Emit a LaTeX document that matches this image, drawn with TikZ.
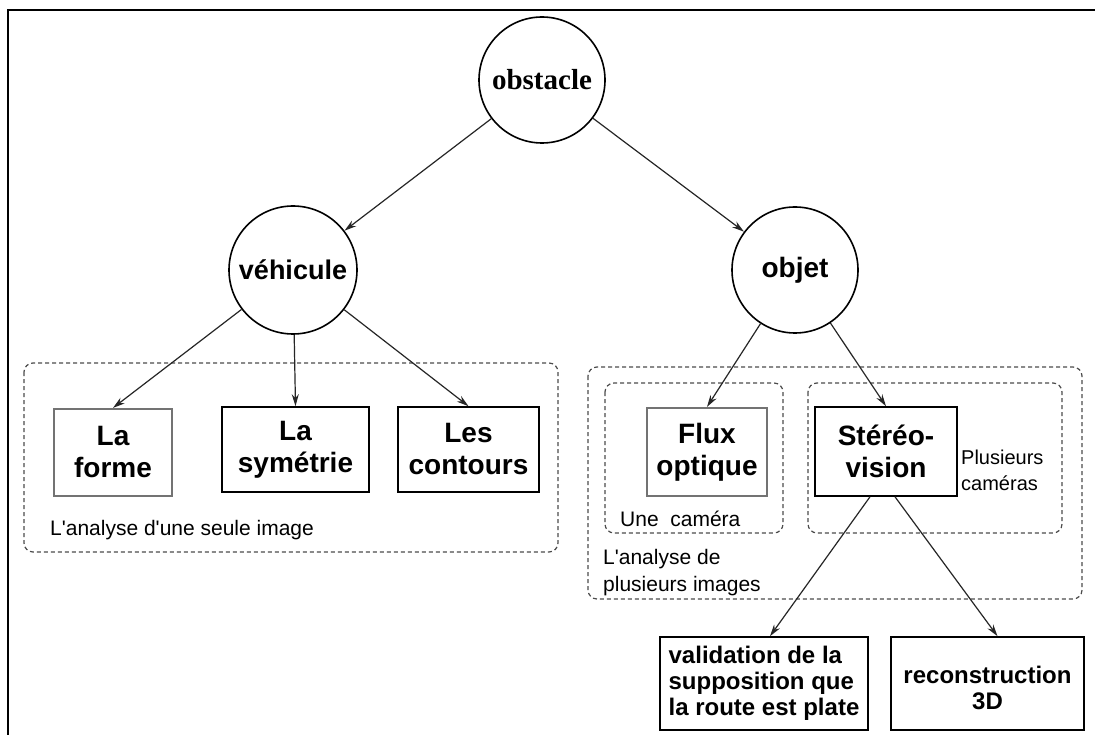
\documentclass[tikz,border=0pt]{standalone}
\usepackage{fontspec}
\setmainfont{Liberation Sans}
\newfontfamily\serifbold{Liberation Serif}
\usetikzlibrary{arrows.meta}
\begin{document}
\begin{tikzpicture}[x=1pt,y=-1pt,
  circ/.style={draw=black,line width=1.6pt,circle,inner sep=0pt,minimum size=126pt,font=\fontsize{28}{32}\selectfont\bfseries},
  box/.style={draw=black,line width=1.6pt,rectangle,inner sep=0pt,align=center,font=\fontsize{28}{32}\selectfont\bfseries},
  graybox/.style={box,draw=black!55,line width=2.2pt},
  lowbox/.style={draw=black,line width=1.6pt,rectangle,inner sep=0pt,align=center,font=\fontsize{24}{26}\selectfont\bfseries},
  group/.style={draw=black!70,line width=1.2pt,dash pattern=on 4pt off 3pt,rounded corners=9pt},
  lbl/.style={inner sep=0pt,anchor=west,align=left,font=\fontsize{21}{27}\selectfont},
  arr/.style={draw=black!85,line width=1.2pt,-{Stealth[length=12pt,width=7pt]}}
]
\useasboundingbox (0,0) rectangle (1095,735);
\fill[white] (0,0) rectangle (1095,735);
% frame (left and top edges)
\draw[line width=2.6pt] (8,735) -- (8,10) -- (1095,10);

% groups
\draw[group] (24,363) rectangle (558,552);
\draw[group] (588,367) rectangle (1082,599);
\draw[group] (605,383) rectangle (783,533);
\draw[group] (808,383) rectangle (1062,533);

% circles
\node[circ,font=\fontsize{29}{32}\selectfont\serifbold\bfseries] (obst) at (542,80) {obstacle};
\node[circ,minimum size=128pt,font=\fontsize{27}{32}\selectfont\bfseries] (veh) at (293,270) {véhicule};
\node[circ] (obj) at (795,270) {objet};

% boxes
\node[graybox,minimum width=118pt,minimum height=87pt] (forme) at (113,452.5) {La\\forme};
\node[box,minimum width=147pt,minimum height=85pt] (sym) at (295.5,449.5) {La\\symétrie};
\node[box,minimum width=141pt,minimum height=85pt] (cont) at (468.5,449.5) {Les\\contours};
\node[graybox,minimum width=120pt,minimum height=88pt] (flux) at (707,452) {Flux\\optique};
\node[box,minimum width=142pt,minimum height=89pt] (stereo) at (886,451.5) {Stéréo-\\vision};
\node[lowbox,align=left,minimum width=208pt,minimum height=93pt] (valid) at (764,683.5) {validation de la\\supposition que\\la route est plate};
\node[lowbox,minimum width=193pt,minimum height=93pt] (recon) at (987.5,683.5) {\mbox{}\\reconstruction\\3D};

% labels
\node[lbl] (l1) at (50,530) {L\textquotesingle analyse d\textquotesingle une seule image};
\node[lbl] (l2) at (620,519) {Une\ \ caméra};
\node[lbl,font=\fontsize{20}{26}\selectfont] (l3) at (961,470) {Plusieurs\\caméras};
\node[lbl] (l4) at (603,573) {L\textquotesingle analyse de\\plusieurs images};

% connectors
\draw[arr] (obst) -- (veh);
\draw[arr] (obst) -- (obj);
\draw[arr] (veh) -- (forme.north);
\draw[arr] (veh) -- (sym.north);
\draw[arr] (veh) -- (cont.north);
\draw[arr] (obj) -- (flux.north);
\draw[arr] (obj) -- (stereo.north);
\draw[arr] ([xshift=-16pt]stereo.south) -- ([xshift=6pt]valid.north);
\draw[arr] ([xshift=9pt]stereo.south) -- ([xshift=10pt]recon.north);
\end{tikzpicture}
\end{document}
